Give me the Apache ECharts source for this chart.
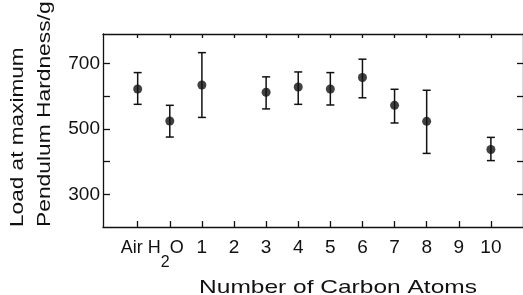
<!DOCTYPE html>
<html>
<head>
<meta charset="utf-8">
<script src="https://cdn.jsdelivr.net/npm/echarts@6/dist/echarts.min.js"></script>
<style>
  html, body { margin: 0; padding: 0; background: #fff; }
  #chart { width: 523px; height: 295px; }
</style>
</head>
<body>
<div id="chart"></div>
<script>
// tick labels along the x axis (Air = -1, H2O = 0, then carbon atoms)
const tickPos = [-1, 0, 1, 2, 3, 4, 5, 6, 7, 8, 9, 10];
const tickLabels = ['Air', 'H2O', '1', '2', '3', '4', '5', '6', '7', '8', '9', '10'];

// measured points
const pointPos = [-1, 0, 1, 3, 4, 5, 6, 7, 8, 10];
const loadMean = [622, 524, 634, 612, 628, 622, 657, 572, 523, 437];
const loadHigh = [672, 572, 733, 659, 674, 672, 713, 621, 618, 474];
const loadLow = [575, 475, 535, 561, 575, 573, 595, 518, 425, 403];

const yTicks = [300, 400, 500, 600, 700];
const yLabels = [300, 500, 700];

const ink = '#111';
const font = 'Liberation Sans';

const chart = echarts.init(document.getElementById('chart'));

// 误差线数据
const errData = pointPos.map((x, i) => [x, loadLow[i], loadHigh[i]]);
const dotData = pointPos.map((x, i) => [x, loadMean[i]]);

chart.setOption({
  animation: false,
  backgroundColor: '#fff',
  grid: { left: 103, top: 34, right: -1, bottom: 68 },
  xAxis: [
    {
      type: 'value', min: -2.08, max: 11, position: 'bottom',
      splitLine: { show: false },
      axisLine: { onZero: false, lineStyle: { color: ink, width: 1.3 } },
      axisTick: { inside: true, length: 6, customValues: tickPos, lineStyle: { color: ink, width: 1.3 } },
      axisLabel: {
        customValues: tickPos, margin: 11, color: ink, fontFamily: font, fontSize: 19,
        formatter: v => {
          const t = tickLabels[Math.round(v) + 1];
          if (t === 'Air') return '{a|Air}';
          if (t === 'H2O') return '{h|H}{s|2}{o|O}';
          return t;
        },
        rich: {
          a: { fontFamily: font, fontSize: 18, color: ink, verticalAlign: 'top', padding: [1, 12, 0, 0] },
          h: { fontFamily: font, fontSize: 18, color: ink, verticalAlign: 'top', padding: [1, 0, 0, 0] },
          o: { fontFamily: font, fontSize: 18, color: ink, verticalAlign: 'top', padding: [1, 8, 0, 0] },
          s: { fontFamily: font, fontSize: 16, color: ink, verticalAlign: 'top', padding: [17, 0, 0, 0] }
        }
      }
    },
    {
      type: 'value', min: -2.08, max: 11, position: 'top',
      splitLine: { show: false },
      axisLine: { onZero: false, lineStyle: { color: ink, width: 1.3 } },
      axisTick: { inside: true, length: 4, customValues: tickPos, lineStyle: { color: ink, width: 1.3 } },
      axisLabel: { show: false }
    }
  ],
  yAxis: [
    {
      type: 'value', min: 200, max: 790, position: 'left',
      splitLine: { show: false },
      axisLine: { show: true, onZero: false, lineStyle: { color: ink, width: 1.3 } },
      axisTick: { show: true, inside: true, length: 7, customValues: yTicks, lineStyle: { color: ink, width: 1.3 } },
      axisLabel: { customValues: yLabels, margin: 3, color: ink, fontFamily: font, fontSize: 19 }
    },
    {
      type: 'value', min: 200, max: 790, position: 'right',
      splitLine: { show: false },
      axisLine: { show: true, onZero: false, lineStyle: { color: ink, width: 1.3 } },
      axisTick: { show: true, inside: true, length: 6, customValues: yTicks, lineStyle: { color: ink, width: 1.3 } },
      axisLabel: { show: false }
    }
  ],
  graphic: [
    {
      type: 'text', x: 18, y: 227, rotation: Math.PI / 2, scaleX: 1.19,
      style: { text: 'Load at maximum', fill: ink, font: '19px "' + font + '"', align: 'left', verticalAlign: 'middle' }
    },
    {
      type: 'text', x: 45, y: 227, rotation: Math.PI / 2, scaleX: 1.2,
      style: { text: 'Pendulum Hardness/g', fill: ink, font: '19px "' + font + '"', align: 'left', verticalAlign: 'middle' }
    },
    {
      type: 'text', x: 338, y: 288, scaleX: 1.29,
      style: { text: 'Number of Carbon Atoms', fill: ink, font: '19px "' + font + '"', align: 'center', verticalAlign: 'middle' }
    }
  ],
  series: [
    {
      type: 'custom',
      data: errData,
      renderItem: (params, api) => {
        const top = api.coord([api.value(0), api.value(2)]);
        const bot = api.coord([api.value(0), api.value(1)]);
        const w = 4;
        const st = { stroke: ink, lineWidth: 1.5 };
        return {
          type: 'group',
          children: [
            { type: 'line', shape: { x1: top[0], y1: top[1], x2: bot[0], y2: bot[1] }, style: st },
            { type: 'line', shape: { x1: top[0] - w, y1: top[1], x2: top[0] + w, y2: top[1] }, style: st },
            { type: 'line', shape: { x1: bot[0] - w, y1: bot[1], x2: bot[0] + w, y2: bot[1] }, style: st }
          ]
        };
      },
      z: 2
    },
    {
      type: 'scatter',
      data: dotData,
      symbol: 'circle',
      symbolSize: 9,
      itemStyle: { color: ink },
      z: 3
    }
  ]
});
</script>
</body>
</html>
